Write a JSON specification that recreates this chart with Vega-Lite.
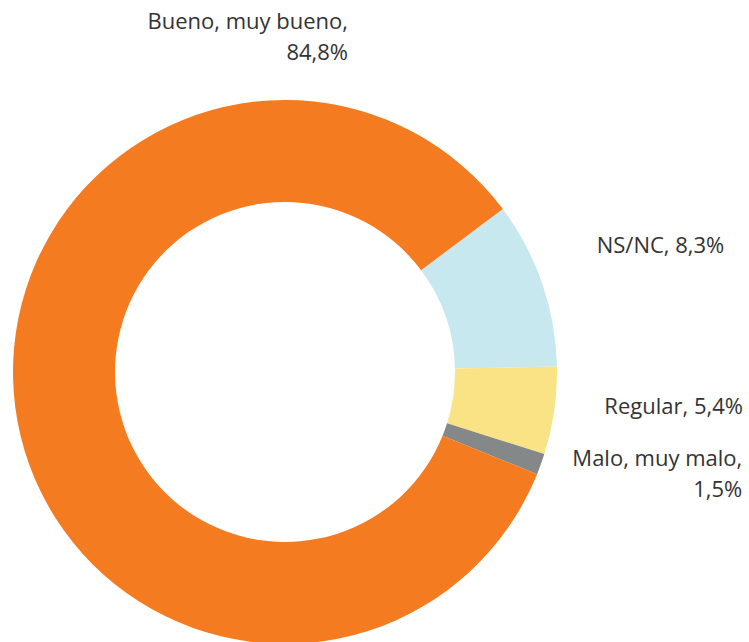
{
  "$schema": "https://vega.github.io/schema/vega-lite/v6.json",
  "width": 570,
  "height": 744,
  "padding": 0,
  "background": "white",
  "config": {"view": {"stroke": null}, "text": {"font": "Open Sans", "fontSize": 22, "color": "#333333", "lineBreak": "\n", "lineHeight": 31, "baseline": "alphabetic"}},
  "data": {
    "values": [
      {"idx": 1, "cat": "NS/NC", "v": 9.9, "label": "NS/NC, 8,3%"},
      {"idx": 2, "cat": "Regular", "v": 5.2, "label": "Regular, 5,4%"},
      {"idx": 3, "cat": "Malo, muy malo", "v": 1.25, "label": "Malo, muy malo,\n1,5%"},
      {"idx": 4, "cat": "Bueno, muy bueno", "v": 83.65, "label": "Bueno, muy bueno,\n84,8%"}
    ]
  },
  "encoding": {
    "theta": {"field": "v", "type": "quantitative", "stack": true, "scale": {"range": [0.9285, 7.2117]}},
    "order": {"field": "idx", "type": "quantitative"}
  },
  "layer": [
    {
      "mark": {"type": "arc", "outerRadius": 272, "innerRadius": 170, "stroke": null},
      "encoding": {
        "color": {
          "field": "cat",
          "type": "nominal",
          "scale": {
            "domain": ["NS/NC", "Regular", "Malo, muy malo", "Bueno, muy bueno"],
            "range": ["#C8E8EF", "#FAE385", "#858888", "#F47B20"]
          },
          "legend": null
        }
      }
    },
    {
      "mark": {"type": "text", "radius": 300, "dx": 28, "dy": -21, "align": "left"},
      "encoding": {"text": {"condition": {"test": "datum.idx === 1", "field": "label"}, "value": ""}}
    },
    {
      "mark": {"type": "text", "radius": 300, "dx": 161, "dy": -1, "align": "right"},
      "encoding": {"text": {"condition": {"test": "datum.idx === 2", "field": "label"}, "value": ""}}
    },
    {
      "mark": {"type": "text", "radius": 300, "dx": 175, "dy": -8, "align": "right"},
      "encoding": {"text": {"condition": {"test": "datum.idx === 3", "field": "label"}, "value": ""}}
    },
    {
      "mark": {"type": "text", "radius": 0, "dx": 63, "dy": -343, "align": "right"},
      "encoding": {"text": {"condition": {"test": "datum.idx === 4", "field": "label"}, "value": ""}}
    }
  ]
}
